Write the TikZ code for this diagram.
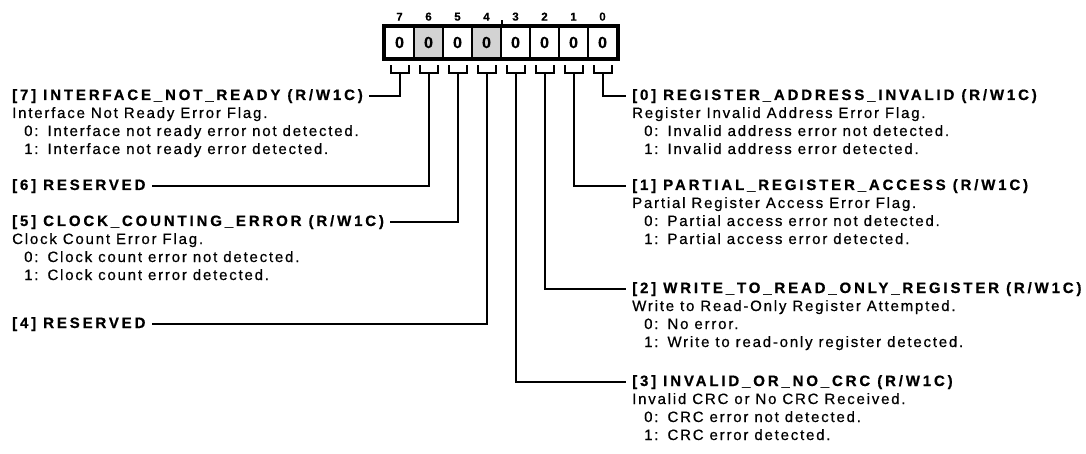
\documentclass[tikz,border=0pt]{standalone}
\usepackage{fontspec}
\setmainfont{Liberation Sans}
\newfontfamily\hdfont{Liberation Sans}[LetterSpace=19,FakeBold=0.6]
\newfontfamily\dsfont{Liberation Sans}[LetterSpace=12,FakeBold=0.6]
\newfontfamily\cellfont{Liberation Sans}[FakeBold=0.4]
\definecolor{cellgray}{HTML}{D3D3D3}
\newcommand\fieldblock[7]{%
  \node[hd, anchor=base west] (h#1) at (#2,#3) {#4};
  \node[ds, anchor=base west] (d#1) at (#2,#3+18) {#5};
  \node[ds, anchor=base west] (z#1) at (#2+12,#3+36) {0:\hspace{9pt}#6};
  \node[ds, anchor=base west] (o#1) at (#2+12,#3+54) {1:\hspace{9pt}#7};
}
\begin{document}
\begin{tikzpicture}[x=1pt,y=-1pt,
  cell/.style={draw, line width=2.2pt, minimum width=29pt, minimum height=31pt,
    inner sep=0pt, font=\fontsize{16}{16}\cellfont\bfseries},
  num/.style={inner sep=0pt, font=\fontsize{11.5}{11.5}\cellfont\bfseries},
  hd/.style={inner sep=0pt, font=\fontsize{15}{18}\hdfont\bfseries},
  ds/.style={inner sep=0pt, font=\fontsize{15}{18}\dsfont},
  conn/.style={line width=2pt},
  leftconn/.style={conn, shorten >=6pt},
  rightconn/.style={conn, shorten >=6pt}]
\useasboundingbox (0,0) rectangle (1086,454);
% register cells
\foreach \b/\k in {7/0,6/1,5/2,4/3,3/4,2/5,1/6,0/7}{
  \node[cell] (c\b) at (385+29*\k+14.5,42.5) {0};
}
\foreach \b in {6,4}{
  \node[cell, fill=cellgray] (g\b) at (c\b) {0};
}
\draw[line width=3pt] (c7.north west) rectangle (c0.south east);
\draw[line width=2pt] (c4.north east) -- ++(0,-6);
% bit numbers, brackets and stems
\foreach \b in {7,...,0}{
  \node[num, above=5pt] (n\b) at (c\b.north) {\b};
  \draw[conn] (c\b.south) ++(-9,6) -- ++(0,8) -- ++(18,0) -- ++(0,-8);
  \path (c\b.south) ++(0,14) coordinate (s\b);
}
% left side
\fieldblock{7}{12}{100}{[7] INTERFACE\_NOT\_READY (R/W1C)}{Interface Not Ready Error Flag.}{Interface not ready error not detected.}{Interface not ready error detected.}
\node[hd, anchor=base west] (h6) at (12,190) {[6] RESERVED};
\fieldblock{5}{12}{226}{[5] CLOCK\_COUNTING\_ERROR (R/W1C)}{Clock Count Error Flag.}{Clock count error not detected.}{Clock count error detected.}
\node[hd, anchor=base west] (h4) at (12,328) {[4] RESERVED};
% right side
\fieldblock{0}{632}{100}{[0] REGISTER\_ADDRESS\_INVALID (R/W1C)}{Register Invalid Address Error Flag.}{Invalid address error not detected.}{Invalid address error detected.}
\fieldblock{1}{632}{190}{[1] PARTIAL\_REGISTER\_ACCESS (R/W1C)}{Partial Register Access Error Flag.}{Partial access error not detected.}{Partial access error detected.}
\fieldblock{2}{632}{293}{[2] WRITE\_TO\_READ\_ONLY\_REGISTER (R/W1C)}{Write to Read-Only Register Attempted.}{No error.}{Write to read-only register detected.}
\fieldblock{3}{632}{386}{[3] INVALID\_OR\_NO\_CRC (R/W1C)}{Invalid CRC or No CRC Received.}{CRC error not detected.}{CRC error detected.}
% connectors
\foreach \b in {7,6,5,4}{
  \draw[leftconn] (s\b) |- (h\b.east);
}
\foreach \b in {0,1,2,3}{
  \draw[rightconn] (s\b) |- (h\b.west);
}
\end{tikzpicture}
\end{document}
